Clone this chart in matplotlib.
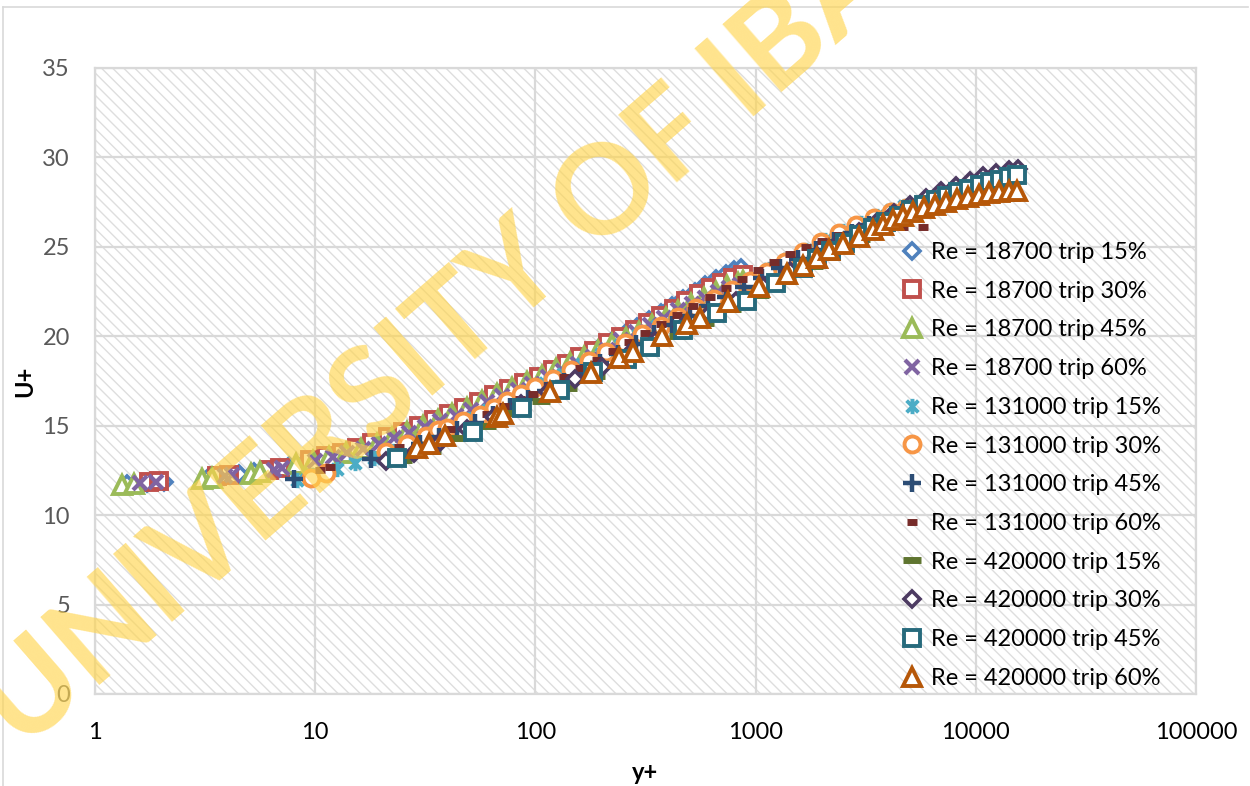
import matplotlib
matplotlib.use('Agg')
import matplotlib.pyplot as plt
from matplotlib.path import Path
from matplotlib.patches import Rectangle
from matplotlib.lines import Line2D
import matplotlib.ticker as mticker

plt.rcParams['font.family'] = ['Lato', 'DejaVu Sans']
plt.rcParams['hatch.linewidth'] = 1.0

# ---------------- data ----------------
x_ticks = [1, 10, 100, 1000, 10000, 100000]
x_tick_labels = ['1', '10', '100', '1000', '10000', '100000']
y_ticks = [0, 5, 10, 15, 20, 25, 30, 35]

labels = ['Re = 18700 trip 15%', 'Re = 18700 trip 30%', 'Re = 18700 trip 45%',
          'Re = 18700 trip 60%', 'Re = 131000 trip 15%', 'Re = 131000 trip 30%',
          'Re = 131000 trip 45%', 'Re = 131000 trip 60%', 'Re = 420000 trip 15%',
          'Re = 420000 trip 30%', 'Re = 420000 trip 45%', 'Re = 420000 trip 60%']

# Re = 18700
yp_a15 = [1.40, 1.72, 2.05, 3.25, 3.85, 4.5, 5.3, 6.4, 7.6, 9.0, 10.6, 12.4, 14.5, 17.0, 20.0,
          23.5, 27.5, 32, 37.5, 44, 51, 59, 68, 78, 90, 103, 118, 135, 154, 175, 199, 226,
          256, 290, 328, 370, 417, 470, 528, 592, 660, 730, 800, 860]
up_a15 = [11.75, 11.8, 11.85, 12.05, 12.2, 12.3, 12.4, 12.55, 12.75, 12.95, 13.1, 13.3, 13.5,
          13.8, 14.1, 14.4, 14.75, 15.05, 15.4, 15.75, 16.1, 16.45, 16.75, 17.05, 17.4, 17.7,
          18.05, 18.4, 18.75, 19.1, 19.45, 19.8, 20.15, 20.5, 20.9, 21.3, 21.7, 22.1, 22.5,
          22.85, 23.2, 23.5, 23.7, 23.8]
yp_a30 = [1.75, 1.95, 3.6, 4.05, 6.2, 6.9, 9.5, 11.2, 13.2, 15.5, 18.2, 21.4, 25, 29.5, 34.5,
          40.5, 47.5, 55.5, 65, 76, 89, 104, 120, 139, 160, 185, 213, 245, 282, 325, 372, 425,
          485, 552, 625, 705, 790, 880]
up_a30 = [11.85, 11.9, 12.2, 12.25, 12.55, 12.65, 13.1, 13.3, 13.5, 13.75, 14.05, 14.35, 14.65,
          15.0, 15.3, 15.65, 16.0, 16.35, 16.7, 17.05, 17.4, 17.75, 18.1, 18.45, 18.85, 19.2,
          19.6, 19.95, 20.35, 20.75, 21.15, 21.55, 21.95, 22.35, 22.7, 23.0, 23.25, 23.4]
yp_a45 = [1.32, 1.5, 3.05, 3.4, 5.1, 5.6, 8.2, 9.8, 11.6, 13.8, 16.2, 19.0, 22.3, 26.2, 30.8,
          36, 42, 49, 57.5, 67, 78.5, 92, 107, 124, 144, 167, 193, 223, 257, 296, 340, 390,
          446, 510, 580, 660, 745, 830, 880]
up_a45 = [11.7, 11.75, 12.0, 12.1, 12.3, 12.4, 12.85, 13.05, 13.25, 13.45, 13.7, 14.0, 14.3,
          14.65, 15.0, 15.3, 15.65, 16.0, 16.4, 16.75, 17.1, 17.45, 17.8, 18.15, 18.5, 18.85,
          19.2, 19.55, 19.9, 20.25, 20.65, 21.05, 21.4, 21.8, 22.15, 22.5, 22.8, 23.0, 23.1]
yp_a60 = [1.6, 1.9, 3.9, 4.2, 6.5, 7.1, 10.0, 12.0, 14.0, 16.5, 19.4, 22.8, 26.8, 31.5, 37,
          43.5, 51, 60, 70.5, 83, 97, 114, 133, 156, 182, 212, 246, 286, 332, 385, 445, 512,
          588, 672, 760, 850]
up_a60 = [11.8, 11.85, 12.2, 12.25, 12.55, 12.65, 13.05, 13.25, 13.45, 13.7, 14.0, 14.3, 14.6,
          14.95, 15.25, 15.55, 15.9, 16.3, 16.65, 17.0, 17.35, 17.7, 18.05, 18.45, 18.85, 19.25,
          19.8, 20.25, 20.65, 21.05, 21.45, 21.8, 22.15, 22.45, 22.7, 22.85]

# Re = 131000
yp_b15 = [8.3, 10.2, 12.5, 15.2, 18.5, 22.5, 27.5, 33.5, 41, 50, 61, 74, 90, 110, 134, 163, 198,
          241, 293, 356, 433, 526, 640, 778, 945, 1150, 1400, 1700, 2070, 2500, 3000, 3550,
          4100, 4700]
up_b15 = [11.95, 12.3, 12.6, 12.9, 13.2, 13.6, 14.0, 14.45, 14.9, 15.4, 15.9, 16.4, 16.9, 17.4,
          17.9, 18.45, 19.0, 19.5, 20.05, 20.6, 21.1, 21.65, 22.15, 22.7, 23.2, 23.75, 24.3,
          24.85, 25.4, 25.9, 26.35, 26.75, 27.05, 27.3]
yp_b30 = [9.6, 11.2, 21, 26, 32, 36, 39.7, 47, 56, 65, 74, 86, 100, 120, 145, 175, 210, 255, 305,
          370, 445, 535, 645, 780, 940, 1130, 1360, 1640, 1980, 2380, 2870, 3450, 4100, 4800]
up_b30 = [12.1, 12.35, 13.55, 14.0, 14.45, 14.75, 14.9, 15.25, 15.6, 16.0, 16.4, 16.8, 17.15,
          17.6, 18.1, 18.6, 19.1, 19.6, 20.1, 20.6, 21.1, 21.6, 22.1, 22.6, 23.1, 23.6, 24.15,
          24.7, 25.25, 25.75, 26.2, 26.6, 26.95, 27.15]
yp_b45 = [8.0, 18.0, 30, 36.5, 44, 53, 64, 77, 93, 112, 135, 163, 197, 238, 287, 346, 418, 504,
          608, 734, 885, 1070, 1290, 1555, 1875, 2260, 2730, 3290, 3970, 4800]
up_b45 = [12.0, 13.15, 13.95, 14.35, 14.75, 15.15, 15.6, 16.05, 16.5, 16.95, 17.45, 17.95, 18.5,
          19.0, 19.55, 20.1, 20.65, 21.15, 21.7, 22.2, 22.75, 23.25, 23.8, 24.3, 24.85, 25.35,
          25.8, 26.2, 26.5, 26.75]
yp_b60 = [10.5, 11.7, 24, 41, 60, 72, 85, 98, 115, 135, 160, 190, 225, 266, 315, 373, 441, 522,
          618, 732, 866, 1025, 1215, 1440, 1700, 2010, 2380, 2820, 3340, 3950, 4670, 5760]
up_b60 = [12.5, 12.7, 13.8, 14.8, 15.65, 16.1, 16.5, 16.8, 17.2, 17.7, 18.2, 18.7, 19.2, 19.7,
          20.2, 20.7, 21.2, 21.7, 22.2, 22.7, 23.2, 23.7, 24.15, 24.6, 25.0, 25.35, 25.65, 25.85,
          26.0, 26.05, 26.1, 26.1]

# Re = 420000
yp_c15 = [25, 34, 45, 60, 80, 106, 141, 188, 250, 333, 443, 590, 785, 1045, 1390, 1850, 2460,
          3000, 3600, 4300, 5100, 6000, 7000, 8200, 9500, 11000, 12700, 14500]
up_c15 = [13.1, 13.6, 14.3, 15.0, 15.7, 16.4, 17.1, 17.8, 18.55, 19.25, 20.0, 20.75, 21.5, 22.3,
          23.1, 23.95, 24.85, 25.45, 26.0, 26.5, 26.95, 27.35, 27.7, 28.05, 28.35, 28.6, 28.85,
          29.05]
yp_c30 = [21, 28, 37, 49, 65, 86, 114, 151, 200, 265, 351, 465, 616, 816, 1080, 1430, 1900, 2400,
          2950, 3550, 4250, 5050, 5950, 6950, 8100, 9400, 10800, 12400, 14100, 15600]
up_c30 = [13.0, 13.5, 14.1, 14.8, 15.5, 16.2, 16.9, 17.6, 18.3, 19.0, 19.75, 20.5, 21.25, 22.0,
          22.8, 23.65, 24.5, 25.2, 25.85, 26.4, 26.9, 27.35, 27.75, 28.1, 28.4, 28.7, 28.95,
          29.15, 29.3, 29.35]
yp_c45 = [23.5, 52, 87, 129, 183, 260, 330, 467, 670, 910, 1240, 1650, 1900, 2200, 2550, 2950,
          3400, 3900, 4500, 5100, 5800, 6600, 7400, 8300, 9300, 10400, 11600, 12900, 14200, 15400]
up_c45 = [13.2, 14.65, 16.0, 17.0, 18.0, 18.75, 19.4, 20.35, 21.3, 22.0, 23.0, 23.8, 24.3,
          24.75, 25.2, 25.65, 26.05, 26.4, 26.75, 27.05, 27.35, 27.6, 27.85, 28.05, 28.25, 28.45,
          28.6, 28.75, 28.9, 29.0]
yp_c60 = [29, 33, 39, 67, 71, 117, 178, 240, 278, 376, 490, 560, 750, 1040, 1390, 1650, 1900, 2150,
          2500, 2960, 3400, 3800, 4200, 4660, 5200, 5800, 6500, 7300, 8200, 9200, 10300, 11500,
          12800, 14100, 15400]
up_c60 = [13.75, 14.0, 14.4, 15.5, 15.65, 16.9, 17.95, 18.8, 19.1, 20.0, 20.7, 21.0, 21.9, 22.75,
          23.5, 23.95, 24.4, 24.8, 25.15, 25.55, 25.95, 26.25, 26.5, 26.75, 26.95, 27.15, 27.35,
          27.5, 27.65, 27.8, 27.9, 28.0, 28.05, 28.1, 28.15]

xs = [yp_a15, yp_a30, yp_a45, yp_a60, yp_b15, yp_b30, yp_b45, yp_b60, yp_c15, yp_c30, yp_c45, yp_c60]
ys = [up_a15, up_a30, up_a45, up_a60, up_b15, up_b30, up_b45, up_b60, up_c15, up_c30, up_c45, up_c60]

# ---------------- styles ----------------
colors = ['#4F81BD', '#C0504D', '#9BBB59', '#8064A2', '#4BACC6', '#F79646',
          '#2C4D75', '#772C2A', '#5F7530', '#4D3B62', '#276A7C', '#B65708']
asterisk = Path([(-1, -1), (1, 1), (-1, 1), (1, -1), (0, -1.3), (0, 1.3)],
                [Path.MOVETO, Path.LINETO, Path.MOVETO, Path.LINETO, Path.MOVETO, Path.LINETO])
styles = [
    dict(marker='D', ms=8, mew=2.6, mfc='white'),
    dict(marker='s', ms=11, mew=2.8, mfc='white'),
    dict(marker='^', ms=13.5, mew=2.8, mfc='white'),
    dict(marker='x', ms=10.5, mew=3.0),
    dict(marker=asterisk, ms=11, mew=2.8, mfc='none'),
    dict(marker='o', ms=11.5, mew=2.8, mfc='white'),
    dict(marker='+', ms=12.5, mew=3.2),
    dict(marker='_', ms=7, mew=5),
    dict(marker='_', ms=13, mew=5),
    dict(marker='D', ms=8, mew=2.6, mfc='white'),
    dict(marker='s', ms=11, mew=2.8, mfc='white'),
    dict(marker='^', ms=13.5, mew=2.8, mfc='white'),
]

W, H = 1250, 786
fig = plt.figure(figsize=(W / 100, H / 100), dpi=100)
ax = fig.add_axes([95 / W, 1 - 694 / H, (1196 - 95) / W, (694 - 68) / H])

ax.set_xscale('log')
ax.set_xlim(1, 100000)
ax.set_ylim(0, 35)

# hatched plot area
ax.add_patch(Rectangle((0, 0), 1, 1, transform=ax.transAxes, facecolor='white',
                       edgecolor='#dedede', hatch='\\\\\\', linewidth=0, zorder=0.1))

for x, y, c, st, lab in zip(xs, ys, colors, styles, labels):
    ax.plot(x, y, linestyle='none', color=c, mec=c, label=lab, zorder=3, **st)

ax.xaxis.set_major_locator(mticker.FixedLocator(x_ticks))
ax.xaxis.set_major_formatter(mticker.FixedFormatter(x_tick_labels))
ax.xaxis.set_minor_locator(mticker.NullLocator())
ax.set_yticks(y_ticks)
ax.grid(True, color='#d9d9d9', linewidth=1.6, zorder=0.5)
ax.set_axisbelow(True)
for s in ax.spines.values():
    s.set_color('#d9d9d9')
    s.set_linewidth(1.6)
ax.tick_params(axis='both', length=0)
ax.tick_params(axis='y', labelsize=17, labelcolor='#595959', pad=18)
ax.tick_params(axis='x', labelsize=17, labelcolor='#000000', pad=20)

fig.text(25 / W, 1 - 381 / H, 'U+', rotation=90, fontsize=17, fontweight='bold',
         ha='center', va='center')
fig.text(645 / W, 1 - 772 / H, 'y+', fontsize=17, fontweight='bold', ha='center', va='center')

leg = ax.legend(loc='upper left', bbox_to_anchor=(900 / W, 1 - 242 / H),
                bbox_transform=fig.transFigure, frameon=False, fontsize=17,
                handlelength=1.0, handletextpad=0.3, labelspacing=0.75,
                borderpad=0, borderaxespad=0, numpoints=1)
leg.set_zorder(5)

# figure border
fig.add_artist(Line2D([3 / W, 3 / W], [0, 1 - 7 / H], color='#d9d9d9', lw=1.2))
fig.add_artist(Line2D([3 / W, 1248 / W], [1 - 7 / H, 1 - 7 / H], color='#d9d9d9', lw=1.2))

# watermark
fig.text(22 / W, 1 - 752 / H, 'UNIVERSITY OF IBADAN', rotation=41, rotation_mode='anchor',
         fontsize=90, fontweight='bold', color='#FFD54F', alpha=0.65, ha='left', va='baseline',
         zorder=10)

fig.savefig('out.png', dpi=100)
